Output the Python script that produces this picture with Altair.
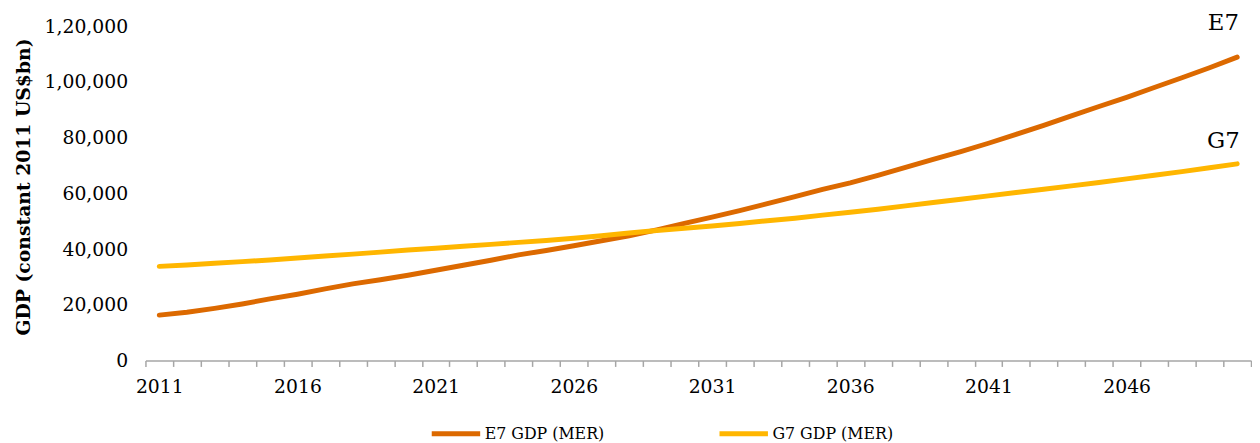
import altair as alt
import pandas as pd

years = list(range(2011, 2051))
e7_gdp = [16300, 17300, 18700, 20300, 22100, 23800, 25700, 27500, 29000, 30600,
          32400, 34200, 36000, 37900, 39500, 41200, 43000, 44800, 46900, 49200,
          51500, 53800, 56300, 58800, 61400, 63800, 66500, 69300, 72200, 75000,
          78000, 81200, 84400, 87800, 91200, 94500, 98000, 101500, 105100, 108900]
g7_gdp = [33800, 34300, 34900, 35500, 36100, 36800, 37500, 38200, 38900, 39700,
          40300, 41000, 41700, 42400, 43100, 43900, 44800, 45800, 46700, 47500,
          48300, 49200, 50200, 51100, 52200, 53200, 54300, 55500, 56700, 57900,
          59100, 60300, 61500, 62700, 63900, 65200, 66500, 67800, 69200, 70600]
series_names = ["E7 GDP (MER)", "G7 GDP (MER)"]
end_labels = ["E7", "G7"]
colors = ["#DC6900", "#FFB600"]
y_ticks = [0, 20000, 40000, 60000, 80000, 100000, 120000]

rows = []
for y, a, b in zip(years, e7_gdp, g7_gdp):
    rows.append({"year": y, "series": series_names[0], "gdp": a})
    rows.append({"year": y, "series": series_names[1], "gdp": b})
df = pd.DataFrame(rows)

FONT = "DejaVu Serif"

x_enc = alt.X(
    "year:O",
    bandPosition=0.5,
    scale=alt.Scale(type="band", paddingInner=0, paddingOuter=0),
    axis=alt.Axis(
        title=None,
        labelAngle=0,
        tickBand="extent",
        labelExpr="(toNumber(datum.value) - 2011) % 5 == 0 ? datum.label : ''",
        labelOverlap=False,
        domainColor="#A6A6A6",
        domainWidth=1.5,
        tickColor="#A6A6A6",
        tickWidth=1.5,
        tickSize=6,
        labelPadding=11,
        labelFont=FONT,
        labelFontSize=19,
        labelColor="#000000",
        grid=False,
    ),
)
y_enc = alt.Y(
    "gdp:Q",
    scale=alt.Scale(domain=[0, 120000], nice=False),
    axis=alt.Axis(
        title="GDP (constant 2011 US$bn)",
        values=y_ticks,
        labelExpr="datum.value == 120000 ? '1,20,000' : datum.value == 100000 ? '1,00,000' : format(datum.value, ',')",
        domain=False,
        ticks=False,
        grid=False,
        labelPadding=18,
        labelFont=FONT,
        labelFontSize=19,
        labelColor="#000000",
        titleFont=FONT,
        titleFontSize=19,
        titleFontWeight="bold",
        titleColor="#000000",
        titleX=-113,
        titleY=162,
    ),
)

lines = alt.Chart(df).mark_line(strokeWidth=5, strokeCap="round").encode(
    x=x_enc,
    y=y_enc,
    color=alt.Color(
        "series:N",
        scale=alt.Scale(domain=series_names, range=colors),
        legend=alt.Legend(
            title=None,
            orient="none",
            legendX=287,
            legendY=385,
            padding=0,
            direction="horizontal",
            columns=2,
            symbolType="stroke",
            symbolSize=2400,
            symbolStrokeWidth=5,
            labelFont=FONT,
            labelFontSize=16,
            labelColor="#000000",
            labelOffset=2,
            columnPadding=106,
        ),
    ),
)

last_year = years[-1]
e7_label = alt.Chart(df).transform_filter(
    (alt.datum.series == series_names[0]) & (alt.datum.year == last_year)
).mark_text(font=FONT, fontSize=23, color="#000000", dx=-14, dy=-34, baseline="middle").encode(
    x=alt.X("year:O", bandPosition=0.5), y="gdp:Q", text=alt.value(end_labels[0])
)
g7_label = alt.Chart(df).transform_filter(
    (alt.datum.series == series_names[1]) & (alt.datum.year == last_year)
).mark_text(font=FONT, fontSize=23, color="#000000", dx=-14, dy=-23, baseline="middle").encode(
    x=alt.X("year:O", bandPosition=0.5), y="gdp:Q", text=alt.value(end_labels[1])
)

chart = alt.layer(lines, e7_label, g7_label).properties(
    width=1118,
    height=338,
    padding={"left": 6, "top": 2, "right": 0, "bottom": 0},
).configure_view(stroke=None)

chart.save("out.html", embed_options={"renderer": "svg", "actions": False})
